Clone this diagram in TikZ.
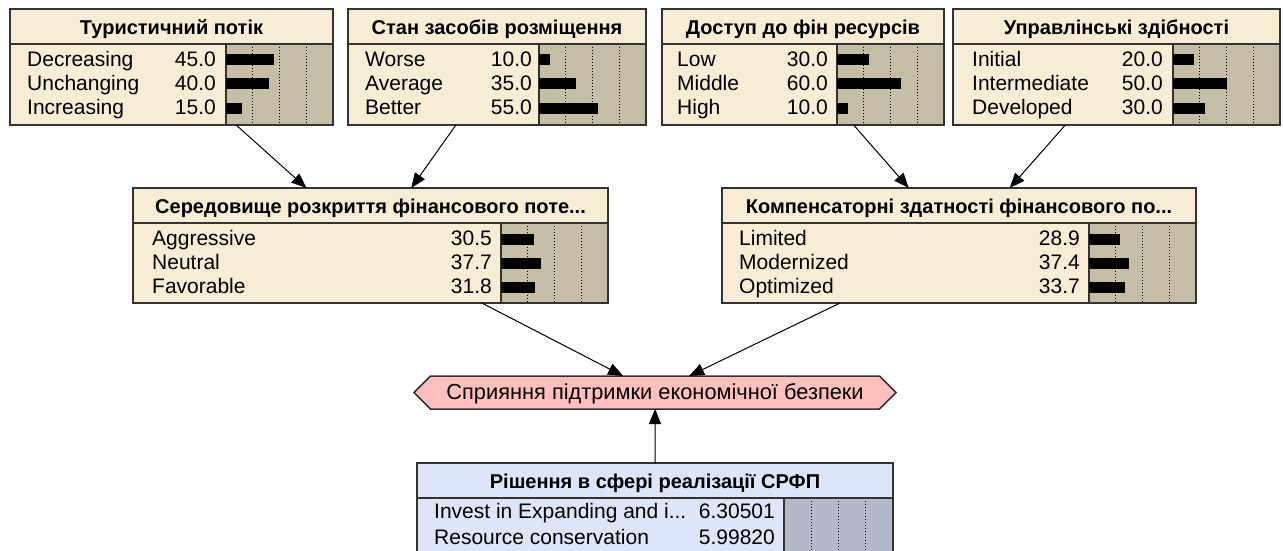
\documentclass[tikz,border=0pt]{standalone}
\usepackage{fontspec}
\setmainfont{Liberation Sans}
\usetikzlibrary{arrows.meta,shapes.symbols}
\definecolor{beige}{HTML}{F8EDD4}
\definecolor{tanbar}{HTML}{C6BDA6}
\definecolor{bluefill}{HTML}{DCE6F8}
\definecolor{bluebar}{HTML}{B2B9C9}
\definecolor{pinkfill}{HTML}{FFBFBF}
\definecolor{edgecol}{HTML}{333333}
\newcommand\rowfont{\fontsize{21}{24}\selectfont}
\newcommand\hexfont{\fontsize{21.8}{24}\selectfont}
\newcommand\ttlfont{\fontsize{20}{24}\selectfont\bfseries}
\tikzset{
  bnframe/.style={inner sep=0pt, outer sep=0pt, draw=edgecol, line width=1.5pt},
  sepline/.style={draw=edgecol, line width=1.5pt},
  dotline/.style={draw=black, line width=1pt, dash pattern=on 1pt off 2pt},
  rowtext/.style={inner sep=0pt, font=\rowfont, text height=14.8pt, text depth=0pt},
  titletext/.style={inner sep=0pt, font=\ttlfont, text height=14.3pt, text depth=0pt},
  arr/.style={draw=black, line width=1pt, -{Triangle[length=15pt,width=12pt]}},
}
% name,left,top,right,bottom,barx,fill,barfill,title
\newcommand\bnbox[9]{%
  \node[bnframe, fill=#7, minimum width={(#4-#2)*1pt}, minimum height={(#5-#3)*1pt}, anchor=north west] (#1) at (#2,#3) {};
  \fill[#8] (#6,{#3+35}) rectangle (#4,#5);
  \foreach \f in {0.25,0.5,0.75} \draw[dotline] ({#6+\f*(#4-#6)},{#3+35}) -- ({#6+\f*(#4-#6)},#5);
  \draw[sepline] (#2,{#3+35}) -- (#4,{#3+35});
  \draw[sepline] (#6,{#3+35}) -- (#6,#5);
  \draw[sepline] (#1.north west) rectangle (#1.south east);
  \node[titletext] (#1-t) at ({(#2+#4)/2},{#3+18.5}) {#9};
}
% name,y,textx,label,valx,value,barx,percent
\newcommand\bnrow[8]{%
  \node[rowtext, anchor=west] (#1-l) at (#3,#2) {#4};
  \node[rowtext, anchor=east] (#1-v) at (#5,#2) {#6};
  \fill (#7,{#2-4.5}) rectangle ({#7+#8*1.07},{#2+6.5});
}
\begin{document}
\begin{tikzpicture}[x=1pt,y=-1pt]
\path[use as bounding box, clip] (0,0) rectangle (1283,551);
\fill[white] (0,0) rectangle (1283,551);

% top row
\bnbox{n1}{10}{9}{333}{125}{226}{beige}{tanbar}{Туристичний потік}
\bnrow{n1a}{59}{27}{Decreasing}{216}{45.0}{226}{45}
\bnrow{n1b}{83}{27}{Unchanging}{216}{40.0}{226}{40}
\bnrow{n1c}{107}{27}{Increasing}{216}{15.0}{226}{15}

\bnbox{n2}{348}{9}{646}{125}{539}{beige}{tanbar}{Стан засобів розміщення}
\bnrow{n2a}{59}{365}{Worse}{532}{10.0}{539}{10}
\bnrow{n2b}{83}{365}{Average}{532}{35.0}{539}{35}
\bnrow{n2c}{107}{365}{Better}{532}{55.0}{539}{55}

\bnbox{n3}{662}{9}{944}{125}{837}{beige}{tanbar}{Доступ до фін ресурсів}
\bnrow{n3a}{59}{677}{Low}{828}{30.0}{837}{30}
\bnrow{n3b}{83}{677}{Middle}{828}{60.0}{837}{60}
\bnrow{n3c}{107}{677}{High}{828}{10.0}{837}{10}

\bnbox{n4}{953}{9}{1280}{125}{1173}{beige}{tanbar}{Управлінські здібності}
\bnrow{n4a}{59}{972}{Initial}{1163}{20.0}{1173}{20}
\bnrow{n4b}{83}{972}{Intermediate}{1163}{50.0}{1173}{50}
\bnrow{n4c}{107}{972}{Developed}{1163}{30.0}{1173}{30}

% middle row
\bnbox{m1}{133}{188}{608}{303}{501}{beige}{tanbar}{Середовище розкриття фінансового поте...}
\bnrow{m1a}{238}{152}{Aggressive}{492}{30.5}{501}{30.5}
\bnrow{m1b}{262}{152}{Neutral}{492}{37.7}{501}{37.7}
\bnrow{m1c}{286}{152}{Favorable}{492}{31.8}{501}{31.8}

\bnbox{m2}{722}{188}{1196}{303}{1089}{beige}{tanbar}{Компенсаторні здатності фінансового по...}
\bnrow{m2a}{238}{739}{Limited}{1080}{28.9}{1089}{28.9}
\bnrow{m2b}{262}{739}{Modernized}{1080}{37.4}{1089}{37.4}
\bnrow{m2c}{286}{739}{Optimized}{1080}{33.7}{1089}{33.7}

% utility hexagon
\node[signal, signal to=west and east, signal pointer angle=90, draw=edgecol, line width=1.5pt,
      fill=pinkfill, minimum width=482pt, minimum height=33pt, inner sep=0pt, outer sep=0pt,
      font=\hexfont, text height=14.8pt, text depth=0pt] (h) at (655,392.5)
      {Сприяння підтримки економічної безпеки};

% decision node
\bnbox{b}{417}{463}{893}{565}{784}{bluefill}{bluebar}{Рішення в сфері реалізації СРФП}
\node[rowtext, anchor=west] (ba-l) at (434,511.5) {Invest in Expanding and i...};
\node[rowtext, anchor=east] (ba-v) at (775,511.5) {6.30501};
\node[rowtext, anchor=west] (bb-l) at (434,537) {Resource conservation};
\node[rowtext, anchor=east] (bb-v) at (775,537) {5.99820};

% connectors
\draw[arr] (n1) -- (m1);
\draw[arr] (n2) -- (m1);
\draw[arr] (n3) -- (m2);
\draw[arr] (n4) -- (m2);
\draw[arr] (m1) -- (h);
\draw[arr] (m2) -- (h);
\draw[arr] (b) -- (h);
\end{tikzpicture}
\end{document}
